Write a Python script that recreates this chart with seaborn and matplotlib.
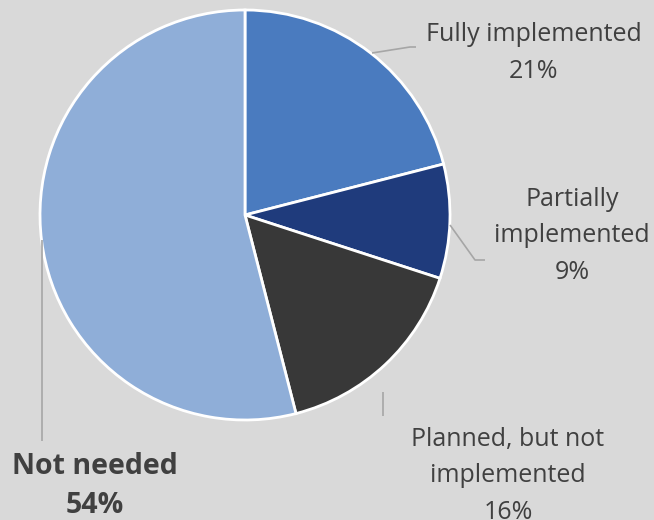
import matplotlib
matplotlib.use("Agg")
import matplotlib.pyplot as plt
import seaborn as sns

# Implementation status shares (percent)
categories = ["Fully implemented", "Partially\nimplemented", "Planned, but not\nimplemented", "Not needed"]
shares = [21, 9, 16, 54]
colors = ["#4A7BBF", "#1F3B7C", "#383838", "#8FAED8"]

sns.set_theme(style="white")
plt.rcParams["font.family"] = ["Open Sans", "DejaVu Sans"]

bg = "#D9D9D9"
text_color = "#404040"
leader_color = "#A6A6A6"

W, H = 654, 520
fig = plt.figure(figsize=(W / 100, H / 100), dpi=100, facecolor=bg)
ax = fig.add_axes([0, 0, 1, 1])
ax.set_facecolor(bg)

cx, cy, r = 245, H - 215, 205
ax.pie(shares, colors=colors, startangle=90, counterclock=False,
       center=(cx, cy), radius=r,
       wedgeprops=dict(edgecolor="white", linewidth=2))

ax.set_xlim(0, W)
ax.set_ylim(0, H)
ax.set_aspect("equal")
ax.axis("off")

# Leader lines (screen-pixel layout, y measured from top)
leaders = [
    [(372, 53), (410, 47), (416, 47)],
    [(450, 225), (475, 260), (485, 260)],
    [(383, 392), (383, 416)],
    [(42, 240), (42, 441)],
]
for pts in leaders:
    xs = [p[0] for p in pts]
    ys = [H - p[1] for p in pts]
    ax.plot(xs, ys, color=leader_color, lw=1.2, solid_capstyle="butt")

# Label anchors (centre of text block, pixel layout)
label_pos = [(534, 53), (572, 236), (508, 476), (95, 486)]
for cat, val, (lx, ly), bold in zip(categories, shares, label_pos, [False, False, False, True]):
    ax.text(lx, H - ly, f"{cat}\n{val}%", ha="center", va="center",
            fontsize=18 if not bold else 20.5, color=text_color,
            fontweight="bold" if bold else "normal",
            linespacing=1.6 if not bold else 1.45)

fig.savefig("out.png", dpi=100, facecolor=bg)
